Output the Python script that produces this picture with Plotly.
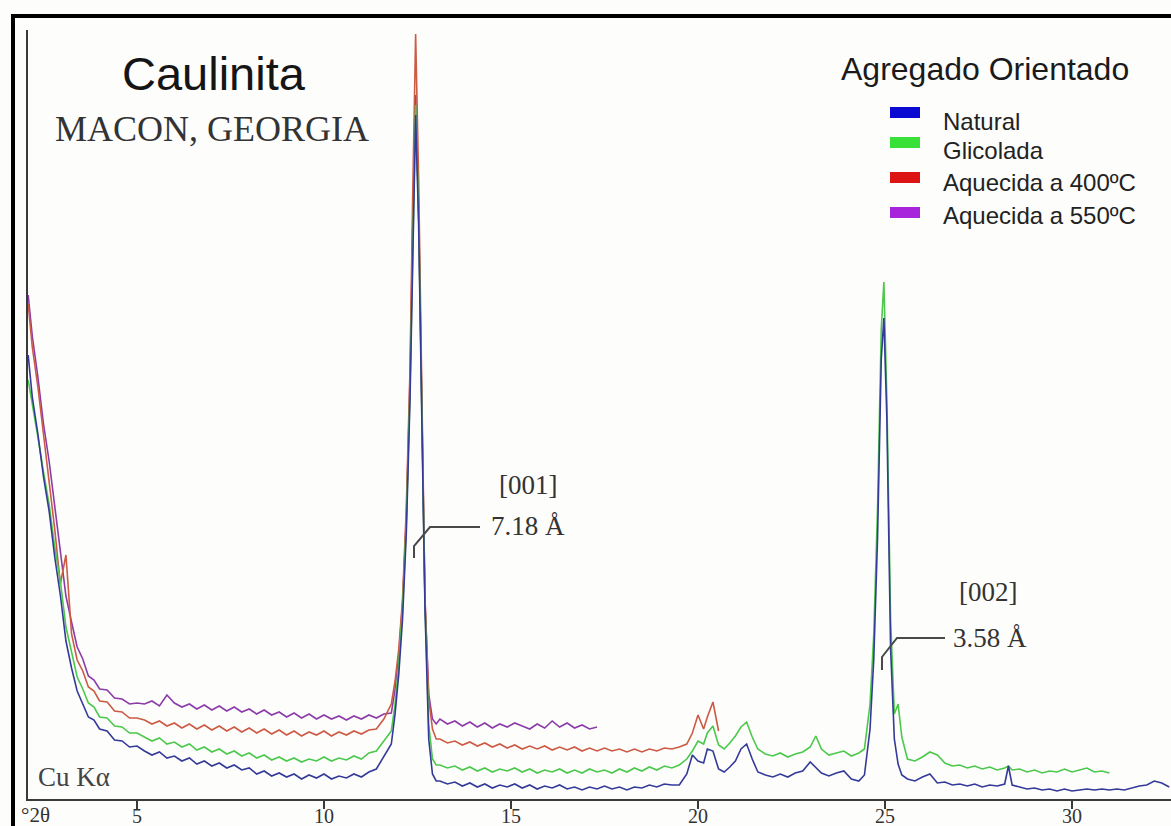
import plotly.graph_objects as go

# ---------------- data (2-theta grid, intensities in arbitrary units) ----------------
X_A = [2.09, 2.2, 2.35, 2.5, 2.65, 2.8, 2.95, 3.1, 3.25, 3.4, 3.55, 3.7, 3.85, 4.0, 4.2, 4.4, 4.6, 4.8, 5.0]
X_B = [5.2, 5.4, 5.6, 5.8, 6.0, 6.2, 6.4, 6.6, 6.8, 7.0, 7.2, 7.4, 7.6, 7.8, 8.0, 8.2, 8.4, 8.6, 8.8,
       9.0, 9.2, 9.4, 9.6, 9.8, 10.0, 10.2, 10.4, 10.6, 10.8, 11.0, 11.2, 11.4, 11.6]
X_C = [11.8, 11.9, 12.0, 12.1, 12.2, 12.3, 12.37, 12.45, 12.53, 12.61, 12.7, 12.8, 12.9, 13.0]
X_D = [13.1, 13.3, 13.5, 13.7, 13.9, 14.1, 14.3, 14.5, 14.7, 14.9, 15.1, 15.3, 15.5, 15.7, 15.9, 16.1, 16.3,
       16.5, 16.7, 16.9, 17.1, 17.3, 17.5, 17.7, 17.9, 18.1, 18.3, 18.5, 18.7, 18.9, 19.1, 19.3, 19.5, 19.7]
X_E = [19.85, 20.0, 20.15, 20.25, 20.4, 20.55, 20.7, 20.85, 21.0, 21.15, 21.3, 21.45, 21.6, 21.8, 22.0,
       22.2, 22.4, 22.6, 22.8, 23.0, 23.15, 23.3, 23.5, 23.7, 23.9, 24.1, 24.3, 24.45]
X_F = [24.6, 24.7, 24.8, 24.9, 24.97, 25.05, 25.15, 25.25, 25.35, 25.45, 25.6]
X_G = [25.8, 26.0, 26.2, 26.4, 26.6, 26.8, 27.0, 27.2, 27.4, 27.6, 27.8, 28.0, 28.2, 28.3, 28.4, 28.6,
       28.8, 29.0, 29.2, 29.4, 29.6, 29.8, 30.0, 30.2, 30.4, 30.6, 30.8, 31.0, 31.2, 31.4, 31.6, 31.8,
       32.0, 32.2, 32.4, 32.6]
two_theta = X_A + X_B + X_C + X_D + X_E + X_F + X_G

natural = (
    [444, 402, 365, 322, 288, 242, 204, 158, 131, 108, 95, 82, 79, 70, 68, 59, 58, 52, 53]
    + [48, 44, 47, 41, 43, 38, 41, 35, 38, 33, 36, 31, 34, 29, 31, 25, 28, 23, 26, 22, 25, 20, 24, 21,
       25, 20, 23, 21, 25, 22, 27, 30, 42]
    + [55, 85, 125, 180, 265, 400, 550, 684, 575, 380, 190, 60, 25, 18]
    + [18, 15, 17, 13, 16, 12, 15, 11, 14, 12, 15, 11, 14, 10, 13, 11, 14, 10, 12, 9, 12, 10, 13, 10,
       12, 9, 12, 11, 14, 12, 15, 14, 14, 25]
    + [44, 38, 36, 50, 48, 30, 27, 32, 38, 50, 55, 40, 27, 24, 22, 25, 22, 26, 28, 37, 32, 26, 23, 26,
       28, 20, 18, 24]
    + [70, 140, 260, 440, 481, 380, 150, 60, 35, 24, 20]
    + [18, 22, 25, 16, 17, 14, 15, 13, 15, 12, 14, 13, 15, 33, 14, 12, 10, 11, 9, 10, 8, 10, 8, 9, 10,
       9, 10, 9, 10, 9, 11, 13, 14, 18, 16, 12]
)
glicolada = (
    [419, 393, 362, 327, 295, 252, 218, 172, 147, 122, 110, 96, 92, 82, 81, 73, 72, 66, 66]
    + [62, 58, 61, 55, 57, 52, 55, 49, 52, 47, 50, 45, 48, 43, 46, 41, 44, 39, 42, 38, 41, 37, 40, 38,
       42, 38, 41, 39, 43, 40, 46, 48, 58]
    + [68, 95, 135, 190, 275, 410, 560, 694, 585, 385, 195, 75, 40, 34]
    + [34, 31, 33, 29, 32, 28, 31, 27, 30, 28, 31, 27, 30, 26, 29, 27, 30, 26, 29, 26, 30, 27, 29, 26,
       30, 27, 31, 28, 32, 29, 33, 31, 34, 40]
    + [48, 58, 55, 66, 73, 54, 50, 56, 63, 72, 77, 62, 50, 45, 43, 46, 42, 45, 47, 52, 63, 50, 44, 46,
       48, 43, 46, 50]
    + [95, 165, 290, 470, 517, 400, 180, 85, 95, 62, 40]
    + [38, 42, 47, 44, 36, 33, 34, 31, 33, 30, 32, 29, 31, 33, 29, 30, 27, 29, 26, 28, 27, 30, 27, 29,
       31, 27, 28, 26]
)
aquecida_400 = (
    [495, 452, 412, 365, 322, 270, 215, 244, 165, 139, 128, 112, 108, 98, 97, 88, 87, 81, 81]
    + [79, 75, 78, 73, 76, 71, 75, 70, 74, 69, 73, 68, 72, 67, 71, 66, 70, 65, 69, 64, 68, 63, 67, 64,
       68, 63, 67, 64, 68, 65, 69, 70, 80]
    + [95, 118, 150, 200, 290, 430, 600, 765, 620, 400, 200, 100, 70, 60]
    + [60, 56, 58, 54, 57, 53, 56, 52, 55, 51, 54, 50, 53, 50, 53, 49, 52, 49, 52, 48, 51, 48, 51, 48,
       50, 47, 50, 47, 50, 48, 51, 50, 52, 55]
    + [66, 84, 70, 82, 97, 68]
)
aquecida_550 = (
    [504, 463, 422, 375, 338, 292, 252, 203, 177, 152, 140, 123, 119, 110, 109, 101, 100, 95, 96]
    + [95, 98, 93, 104, 96, 92, 95, 90, 94, 89, 93, 88, 92, 87, 90, 85, 89, 84, 87, 82, 86, 81, 85, 80,
       84, 80, 83, 79, 83, 80, 84, 81, 85]
    + [86, 110, 145, 195, 280, 420, 570, 704, 590, 390, 200, 105, 80, 75]
    + [80, 75, 78, 73, 77, 72, 76, 71, 75, 72, 76, 73, 70, 75, 71, 78, 72, 76, 71, 74, 70, 72]
)

series_names = ["Natural", "Glicolada", "Aquecida a 400ºC", "Aquecida a 550ºC"]
series_values = [natural, glicolada, aquecida_400, aquecida_550]
line_colors = ["#343a98", "#4cc84c", "#cc5a44", "#8c3ca8"]
swatch_colors = ["#0a0ad2", "#38e038", "#dc1414", "#a824dc"]
tick_values = [5, 10, 15, 20, 25, 30]
tick_labels = ["5", "10", "15", "20", "25", "30"]
peak_labels = [("[001]", "7.18 Å"), ("[002]", "3.58 Å")]

# ---------------- figure ----------------
W, H = 1171, 826
L, T, B = 28, 30, 27
PW, PH = W - L, H - T - B


def px(x):
    return (x - L) / PW


def py(y):
    return (H - B - y) / PH


fig = go.Figure()
draw_order = [3, 2, 1, 0]
for i in draw_order:
    vals = series_values[i]
    fig.add_trace(go.Scatter(
        x=two_theta[:len(vals)], y=vals, mode="lines", name=series_names[i],
        line=dict(color=line_colors[i], width=1.6), showlegend=False, hoverinfo="skip"))

shapes = []
frame = dict(type="line", xref="paper", yref="paper", line=dict(color="black", width=4))
shapes.append(dict(frame, x0=px(13), x1=px(13), y0=py(14), y1=py(840)))
shapes.append(dict(frame, x0=px(11), x1=px(1180), y0=py(16), y1=py(16)))

lead = dict(color="#4a4a4a", width=2)
shapes.append(dict(type="path", xref="paper", yref="paper", line=lead,
                   path=f"M{px(414)},{py(558)} L{px(414)},{py(546)} L{px(430)},{py(527)} L{px(480)},{py(527)}"))
shapes.append(dict(type="path", xref="paper", yref="paper", line=lead,
                   path=f"M{px(882)},{py(670)} L{px(882)},{py(657)} L{px(897)},{py(638)} L{px(945)},{py(638)}"))

annotations = []


def ann(text, x, y, size, family, color="#222", xanchor="center"):
    annotations.append(dict(text=text, x=px(x), y=py(y), xref="paper", yref="paper",
                            xanchor=xanchor, yanchor="middle", showarrow=False,
                            font=dict(family=family, size=size, color=color)))


ann("Caulinita", 214, 73, 47, "Liberation Sans", "#151515")
ann("MACON, GEORGIA", 212, 129, 36, "Liberation Serif", "#333")
ann("Agregado Orientado", 985, 69, 32, "Liberation Sans", "#1a1a1a")

swatch_y = [112.5, 142.5, 177.5, 212.5]
text_y = [121.5, 150.5, 182.5, 215]
for i, name in enumerate(series_names):
    shapes.append(dict(type="rect", xref="paper", yref="paper", x0=px(890), x1=px(920),
                       y0=py(swatch_y[i] + 5.5), y1=py(swatch_y[i] - 5.5),
                       fillcolor=swatch_colors[i], line=dict(width=0)))
    ann(name, 941, text_y[i], 24, "Liberation Sans", "#222", "left")

ann(peak_labels[0][0], 528, 485, 27, "Liberation Serif", "#333")
ann(peak_labels[0][1], 489, 526, 27, "Liberation Serif", "#333", "left")
ann(peak_labels[1][0], 988, 592, 27, "Liberation Serif", "#333")
ann(peak_labels[1][1], 951, 638, 27, "Liberation Serif", "#333", "left")
ann("Cu Kα", 36, 777, 27, "Liberation Serif", "#444", "left")
ann("°2θ", 19, 815, 21, "Liberation Serif", "#333", "left")

fig.update_layout(
    width=W, height=H,
    margin=dict(l=L, r=0, t=T, b=B),
    paper_bgcolor="#fdfdfb", plot_bgcolor="#fdfdfb",
    shapes=shapes, annotations=annotations,
    xaxis=dict(range=[(L + 50) / 37.4, (W + 50) / 37.4], showgrid=False, zeroline=False,
               showline=True, linecolor="#3a3a3a", linewidth=2,
               ticks="outside", ticklen=8, tickwidth=1.5, tickcolor="#3a3a3a",
               tickvals=tick_values, ticktext=tick_labels, automargin=False,
               ticklabelstandoff=-10,
               tickfont=dict(family="Liberation Serif", size=20, color="#333")),
    yaxis=dict(range=[0, PH], showgrid=False, zeroline=False, showline=True,
               linecolor="#3a3a3a", linewidth=2, showticklabels=False, ticks="",
               automargin=False),
    showlegend=False,
)

fig.write_html("out.html")
